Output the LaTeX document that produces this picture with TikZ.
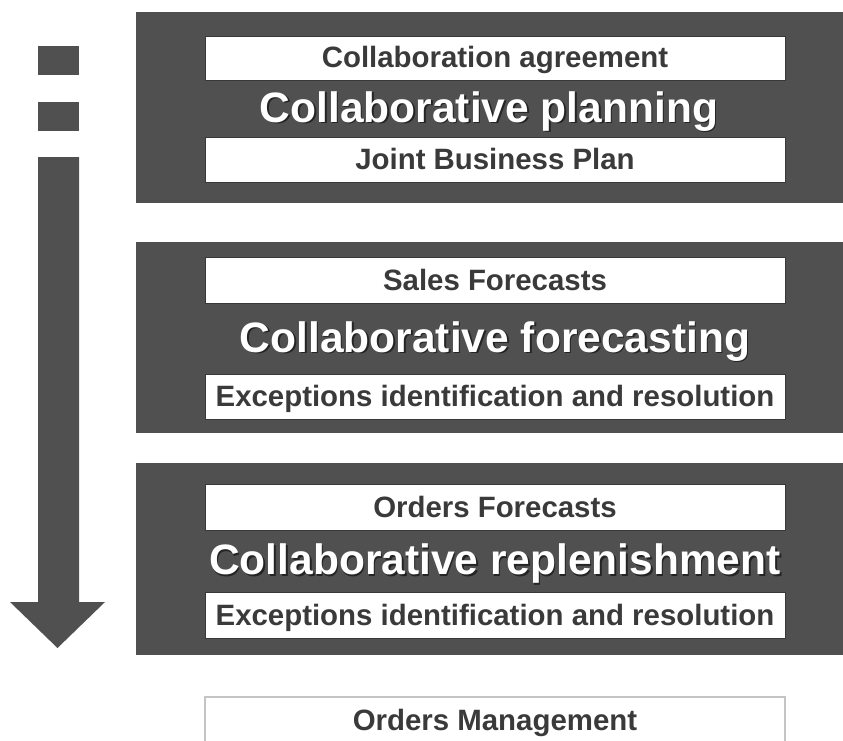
\documentclass[tikz,border=0pt]{standalone}
\usepackage{fontspec}
\setmainfont{Liberation Sans}
\definecolor{panel}{HTML}{505050}
\definecolor{txt}{HTML}{3A3A3A}
\definecolor{lightframe}{HTML}{C4C4C4}
\begin{document}
\begin{tikzpicture}[x=1pt,y=-1pt,
  panelbox/.style={fill=panel,draw=none},
  whitebox/.style={fill=white,draw=panel!70!black,line width=0.6pt},
  smalltxt/.style={font=\fontsize{29.4}{31}\selectfont\bfseries,text=txt,anchor=base,inner sep=0pt},
  bigtxt/.style={font=\fontsize{42.5}{44}\selectfont\bfseries,text=white,anchor=base,inner sep=0pt},
  shadowtxt/.style={font=\fontsize{42.5}{44}\selectfont\bfseries,text=black,opacity=0.55,anchor=base,inner sep=0pt},
  arrowpart/.style={fill=panel,draw=none}
]
\useasboundingbox (0,0) rectangle (843,740);
\fill[white] (0,0) rectangle (843,740);

% left arrow
\path[arrowpart] (38,46) rectangle (79,75);
\path[arrowpart] (38,102) rectangle (79,131);
\path[arrowpart] (38,157) -- (79,157) -- (79,602) -- (105,602) -- (57.5,648) -- (10,602) -- (38,602) -- cycle;

% panel 1
\path[panelbox] (136,12) rectangle (843,203);
\path[whitebox] (205,36) rectangle (785,80);
\path[whitebox] (205,137) rectangle (785,182);
\node[smalltxt] (agree) at (495,67.5) {Collaboration agreement};
\node[shadowtxt] at (490.5,123.5) {Collaborative planning};
\node[bigtxt] (plan) at (489,122) {Collaborative planning};
\node[smalltxt] (jbp) at (495,169.5) {Joint Business Plan};

% panel 2
\path[panelbox] (136,242) rectangle (843,433);
\path[whitebox] (205,257) rectangle (785,303);
\path[whitebox] (205,374) rectangle (785,419);
\node[smalltxt] (sales) at (495,290.5) {Sales Forecasts};
\node[shadowtxt] at (496.5,353.5) {Collaborative forecasting};
\node[bigtxt] (fore) at (495,352) {Collaborative forecasting};
\node[smalltxt] (exc1) at (495,406.5) {Exceptions identification and resolution};

% panel 3
\path[panelbox] (136,463) rectangle (843,655);
\path[whitebox] (205,484) rectangle (785,530);
\path[whitebox] (205,592) rectangle (785,638);
\node[smalltxt] (orders) at (495,517.5) {Orders Forecasts};
\node[shadowtxt] at (496.5,576) {Collaborative replenishment};
\node[bigtxt] (repl) at (495,574.5) {Collaborative replenishment};
\node[smalltxt] (exc2) at (495,625.5) {Exceptions identification and resolution};

% bottom box
\draw[lightframe,line width=1.3pt,fill=white] (205,697) rectangle (785,745);
\node[smalltxt] (om) at (495,730.5) {Orders Management};
\end{tikzpicture}
\end{document}
